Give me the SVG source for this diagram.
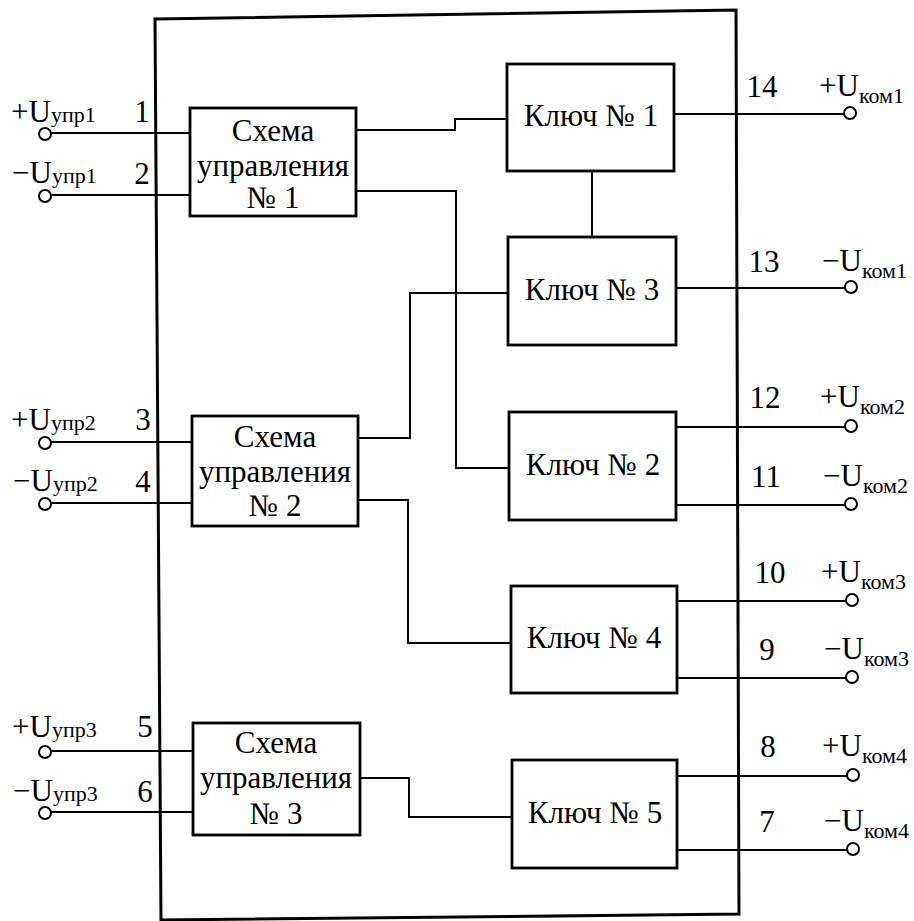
<svg xmlns="http://www.w3.org/2000/svg" width="914" height="921" viewBox="0 0 914 921">
<style>
  .t { font-family: "Liberation Serif", "Times New Roman", serif; font-size: 31px; fill: #000; }
  .c { text-anchor: middle; }
  .sub { font-size: 22px; }
  .box { fill: #fff; stroke: #000; stroke-width: 2.8; }
  .w { fill: none; stroke: #000; stroke-width: 2; }
  .term { fill: #fff; stroke: #000; stroke-width: 2; }
</style>
<rect x="0" y="0" width="914" height="921" fill="#fff"/>

<g id="frame">
  <polygon points="155,19 736,10 739,914 161,920" fill="none" stroke="#000" stroke-width="3"/>
</g>

<g id="connectors">
  <!-- inputs -->
  <polyline class="w" points="51,133 190,133"/>
  <polyline class="w" points="51,195 190,195"/>
  <polyline class="w" points="51,442 192,442"/>
  <polyline class="w" points="51,503 192,503"/>
  <polyline class="w" points="51,751 193,751"/>
  <polyline class="w" points="51,812 193,812"/>
  <!-- internal -->
  <polyline class="w" points="356,130 455,130 455,119 507,119"/>
  <polyline class="w" points="356,191 456,191 456,468 509,468"/>
  <polyline class="w" points="592,171 592,237"/>
  <polyline class="w" points="358,438 410,438 410,293 508,293"/>
  <polyline class="w" points="358,500 408,500 408,643 511,643"/>
  <polyline class="w" points="360,778 409,778 409,817 512,817"/>
  <!-- outputs -->
  <polyline class="w" points="674,114 844,114"/>
  <polyline class="w" points="676,288 845,288"/>
  <polyline class="w" points="676,427 845,427"/>
  <polyline class="w" points="676,505 845,505"/>
  <polyline class="w" points="677,601 846,601"/>
  <polyline class="w" points="677,678 846,678"/>
  <polyline class="w" points="677,776 847,776"/>
  <polyline class="w" points="677,850 847,850"/>
</g>

<g id="terminals">
  <circle class="term" cx="45" cy="134" r="6"/>
  <circle class="term" cx="45" cy="196" r="6"/>
  <circle class="term" cx="45" cy="443" r="6"/>
  <circle class="term" cx="45" cy="504" r="6"/>
  <circle class="term" cx="45" cy="752" r="6"/>
  <circle class="term" cx="45" cy="813" r="6"/>
  <circle class="term" cx="850" cy="113" r="6"/>
  <circle class="term" cx="851" cy="287" r="6"/>
  <circle class="term" cx="851" cy="426" r="6"/>
  <circle class="term" cx="851" cy="504" r="6"/>
  <circle class="term" cx="852" cy="600" r="6"/>
  <circle class="term" cx="852" cy="677" r="6"/>
  <circle class="term" cx="853" cy="775" r="6"/>
  <circle class="term" cx="853" cy="849" r="6"/>
</g>

<g id="scheme1">
  <rect class="box" x="190" y="108" width="166" height="108"/>
  <text class="t c" x="273" y="141">Схема</text>
  <text class="t c" x="273" y="176">управления</text>
  <text class="t c" x="273" y="208">№ 1</text>
</g>
<g id="scheme2">
  <rect class="box" x="192" y="416" width="166" height="110"/>
  <text class="t c" x="275" y="447">Схема</text>
  <text class="t c" x="275" y="482">управления</text>
  <text class="t c" x="275" y="516">№ 2</text>
</g>
<g id="scheme3">
  <rect class="box" x="193" y="723" width="167" height="112"/>
  <text class="t c" x="276" y="753">Схема</text>
  <text class="t c" x="276" y="788">управления</text>
  <text class="t c" x="276" y="824">№ 3</text>
</g>

<g id="key1">
  <rect class="box" x="507" y="64" width="167" height="107"/>
  <text class="t c" x="591" y="126">Ключ № 1</text>
</g>
<g id="key3">
  <rect class="box" x="508" y="237" width="168" height="108"/>
  <text class="t c" x="592" y="300">Ключ № 3</text>
</g>
<g id="key2">
  <rect class="box" x="509" y="412" width="167" height="108"/>
  <text class="t c" x="593" y="475">Ключ № 2</text>
</g>
<g id="key4">
  <rect class="box" x="511" y="586" width="166" height="107"/>
  <text class="t c" x="594" y="648">Ключ № 4</text>
</g>
<g id="key5">
  <rect class="box" x="512" y="760" width="165" height="108"/>
  <text class="t c" x="595" y="823">Ключ № 5</text>
</g>

<g id="left-labels">
  <text class="t" x="11" y="122">+U<tspan class="sub">упр1</tspan></text>
  <text class="t c" x="142" y="122">1</text>
  <text class="t" x="12" y="183">−U<tspan class="sub">упр1</tspan></text>
  <text class="t c" x="142" y="184">2</text>
  <text class="t" x="11" y="430">+U<tspan class="sub">упр2</tspan></text>
  <text class="t c" x="143" y="430">3</text>
  <text class="t" x="13" y="491">−U<tspan class="sub">упр2</tspan></text>
  <text class="t c" x="143" y="492">4</text>
  <text class="t" x="12" y="737">+U<tspan class="sub">упр3</tspan></text>
  <text class="t c" x="145" y="737">5</text>
  <text class="t" x="13" y="801">−U<tspan class="sub">упр3</tspan></text>
  <text class="t c" x="145" y="802">6</text>
</g>

<g id="right-labels">
  <text class="t c" x="762" y="97">14</text>
  <text class="t" x="819" y="96">+U<tspan class="sub" dy="7">ком1</tspan></text>
  <text class="t c" x="764" y="272">13</text>
  <text class="t" x="822" y="271">−U<tspan class="sub" dy="7">ком1</tspan></text>
  <text class="t c" x="765" y="408">12</text>
  <text class="t" x="820" y="407">+U<tspan class="sub" dy="7">ком2</tspan></text>
  <text class="t c" x="766" y="487">11</text>
  <text class="t" x="823" y="486">−U<tspan class="sub" dy="7">ком2</tspan></text>
  <text class="t c" x="770" y="583">10</text>
  <text class="t" x="821" y="582">+U<tspan class="sub" dy="7">ком3</tspan></text>
  <text class="t c" x="767" y="660">9</text>
  <text class="t" x="824" y="659">−U<tspan class="sub" dy="7">ком3</tspan></text>
  <text class="t c" x="768" y="757">8</text>
  <text class="t" x="822" y="756">+U<tspan class="sub" dy="7">ком4</tspan></text>
  <text class="t c" x="767" y="832">7</text>
  <text class="t" x="824" y="831">−U<tspan class="sub" dy="7">ком4</tspan></text>
</g>
</svg>
